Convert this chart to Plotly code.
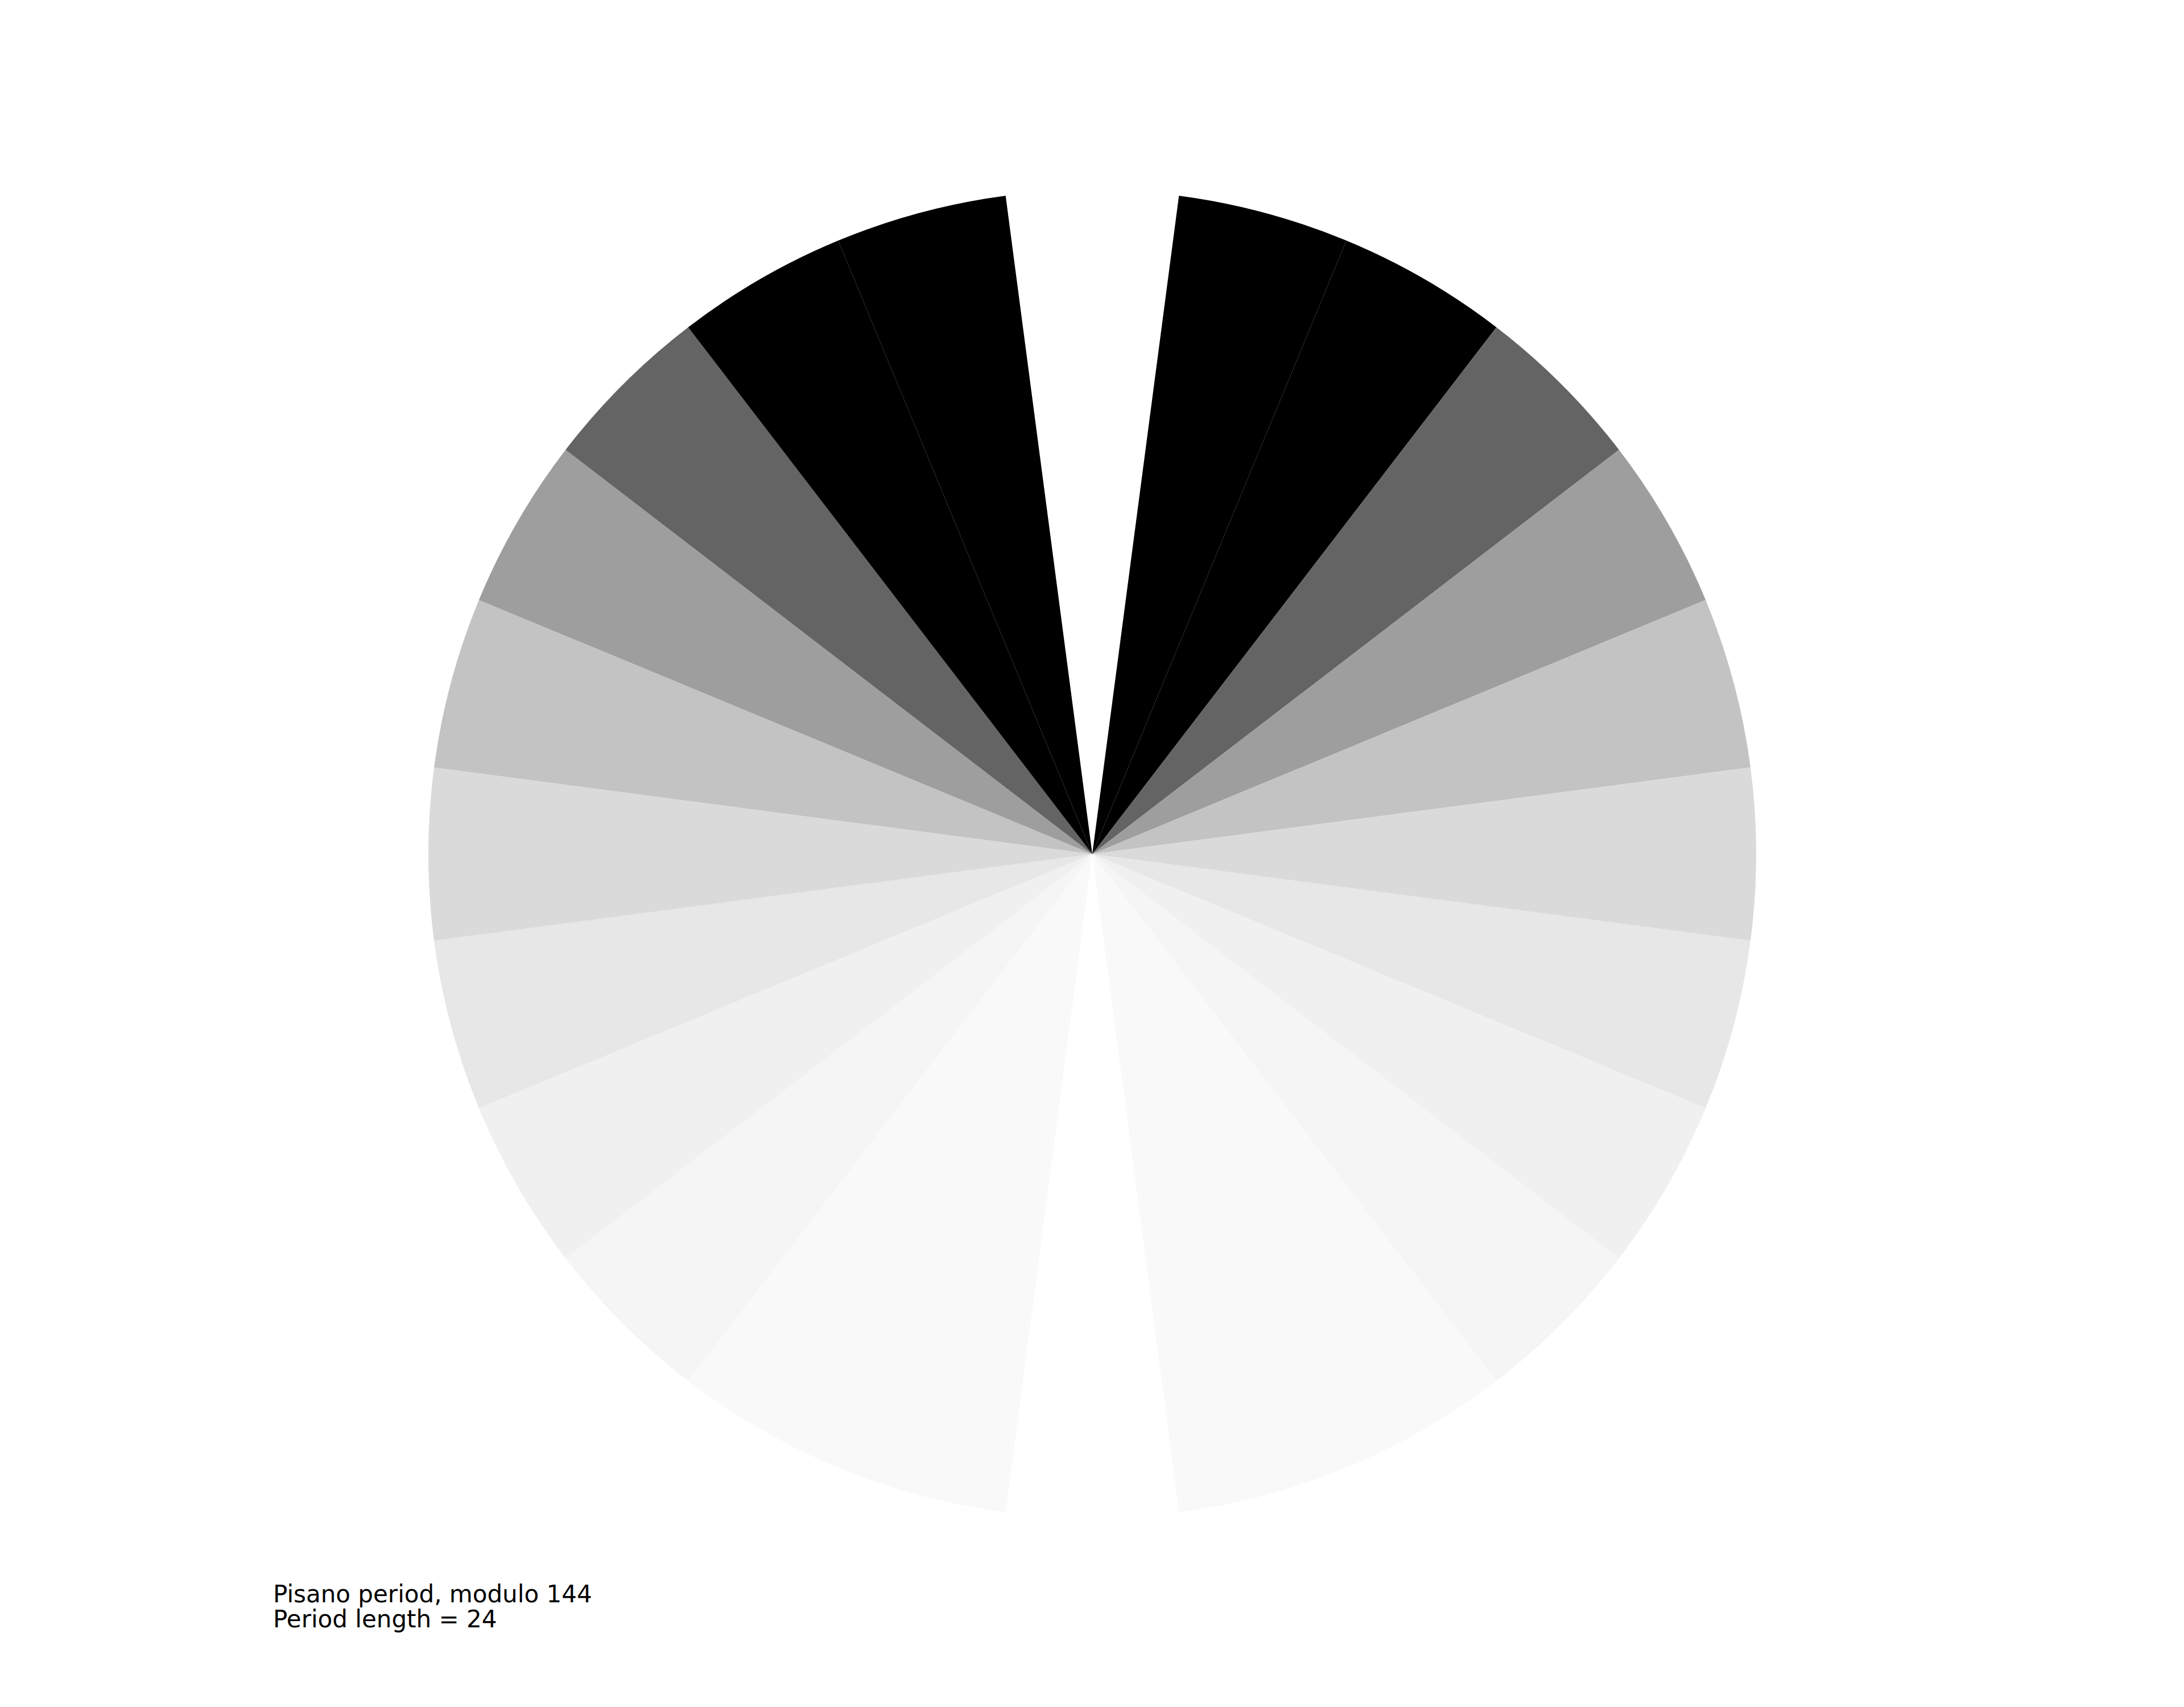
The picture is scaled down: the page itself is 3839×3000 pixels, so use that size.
import plotly.graph_objects as go

# Fibonacci numbers modulo 144 over one Pisano period (length 24)
modulus = 144
residues = [0, 1, 1, 2, 3, 5, 8, 13, 21, 34, 55, 89,
            0, 89, 89, 34, 123, 13, 136, 5, 141, 2, 143, 1]

# grey level used for each distance-to-zero min(r, m - r)
distance_levels = [0, 1, 2, 3, 5, 8, 13, 21, 34, 55]
grey_levels = [255, 0, 100, 158, 195, 218, 231, 240, 245, 249]

title_lines = ["Pisano period, modulo 144", "Period length = 24"]

grey_of = dict(zip(distance_levels, grey_levels))
colors = []
for r in residues:
    d = min(r, modulus - r) if r else 0
    g = grey_of[d]
    colors.append(f"rgb({g},{g},{g})")

W, H = 3839, 3000
cx, cy, rad = 1912, 1493, 1167

fig = go.Figure(go.Pie(
    values=[1] * len(residues),
    labels=[f"F{i}" for i in range(len(residues))],
    sort=False,
    direction="clockwise",
    rotation=-7.5,
    marker=dict(colors=colors, line=dict(width=0)),
    textinfo="none",
    hoverinfo="none",
    showlegend=False,
    domain=dict(x=[(cx - rad) / W, (cx + rad) / W],
                y=[(H - cy - rad) / H, (H - cy + rad) / H]),
))

fig.add_annotation(text=title_lines[0], x=470 / W, y=1 - 2820 / H,
                   xref="paper", yref="paper", xanchor="left", yanchor="bottom",
                   showarrow=False, font=dict(family="DejaVu Sans", size=42, color="black"))
fig.add_annotation(text=title_lines[1], x=470 / W, y=1 - 2864 / H,
                   xref="paper", yref="paper", xanchor="left", yanchor="bottom",
                   showarrow=False, font=dict(family="DejaVu Sans", size=42, color="black"))

fig.update_layout(width=W, height=H, margin=dict(l=0, r=0, t=0, b=0),
                  paper_bgcolor="white", plot_bgcolor="white")

fig.write_html("out.html")
